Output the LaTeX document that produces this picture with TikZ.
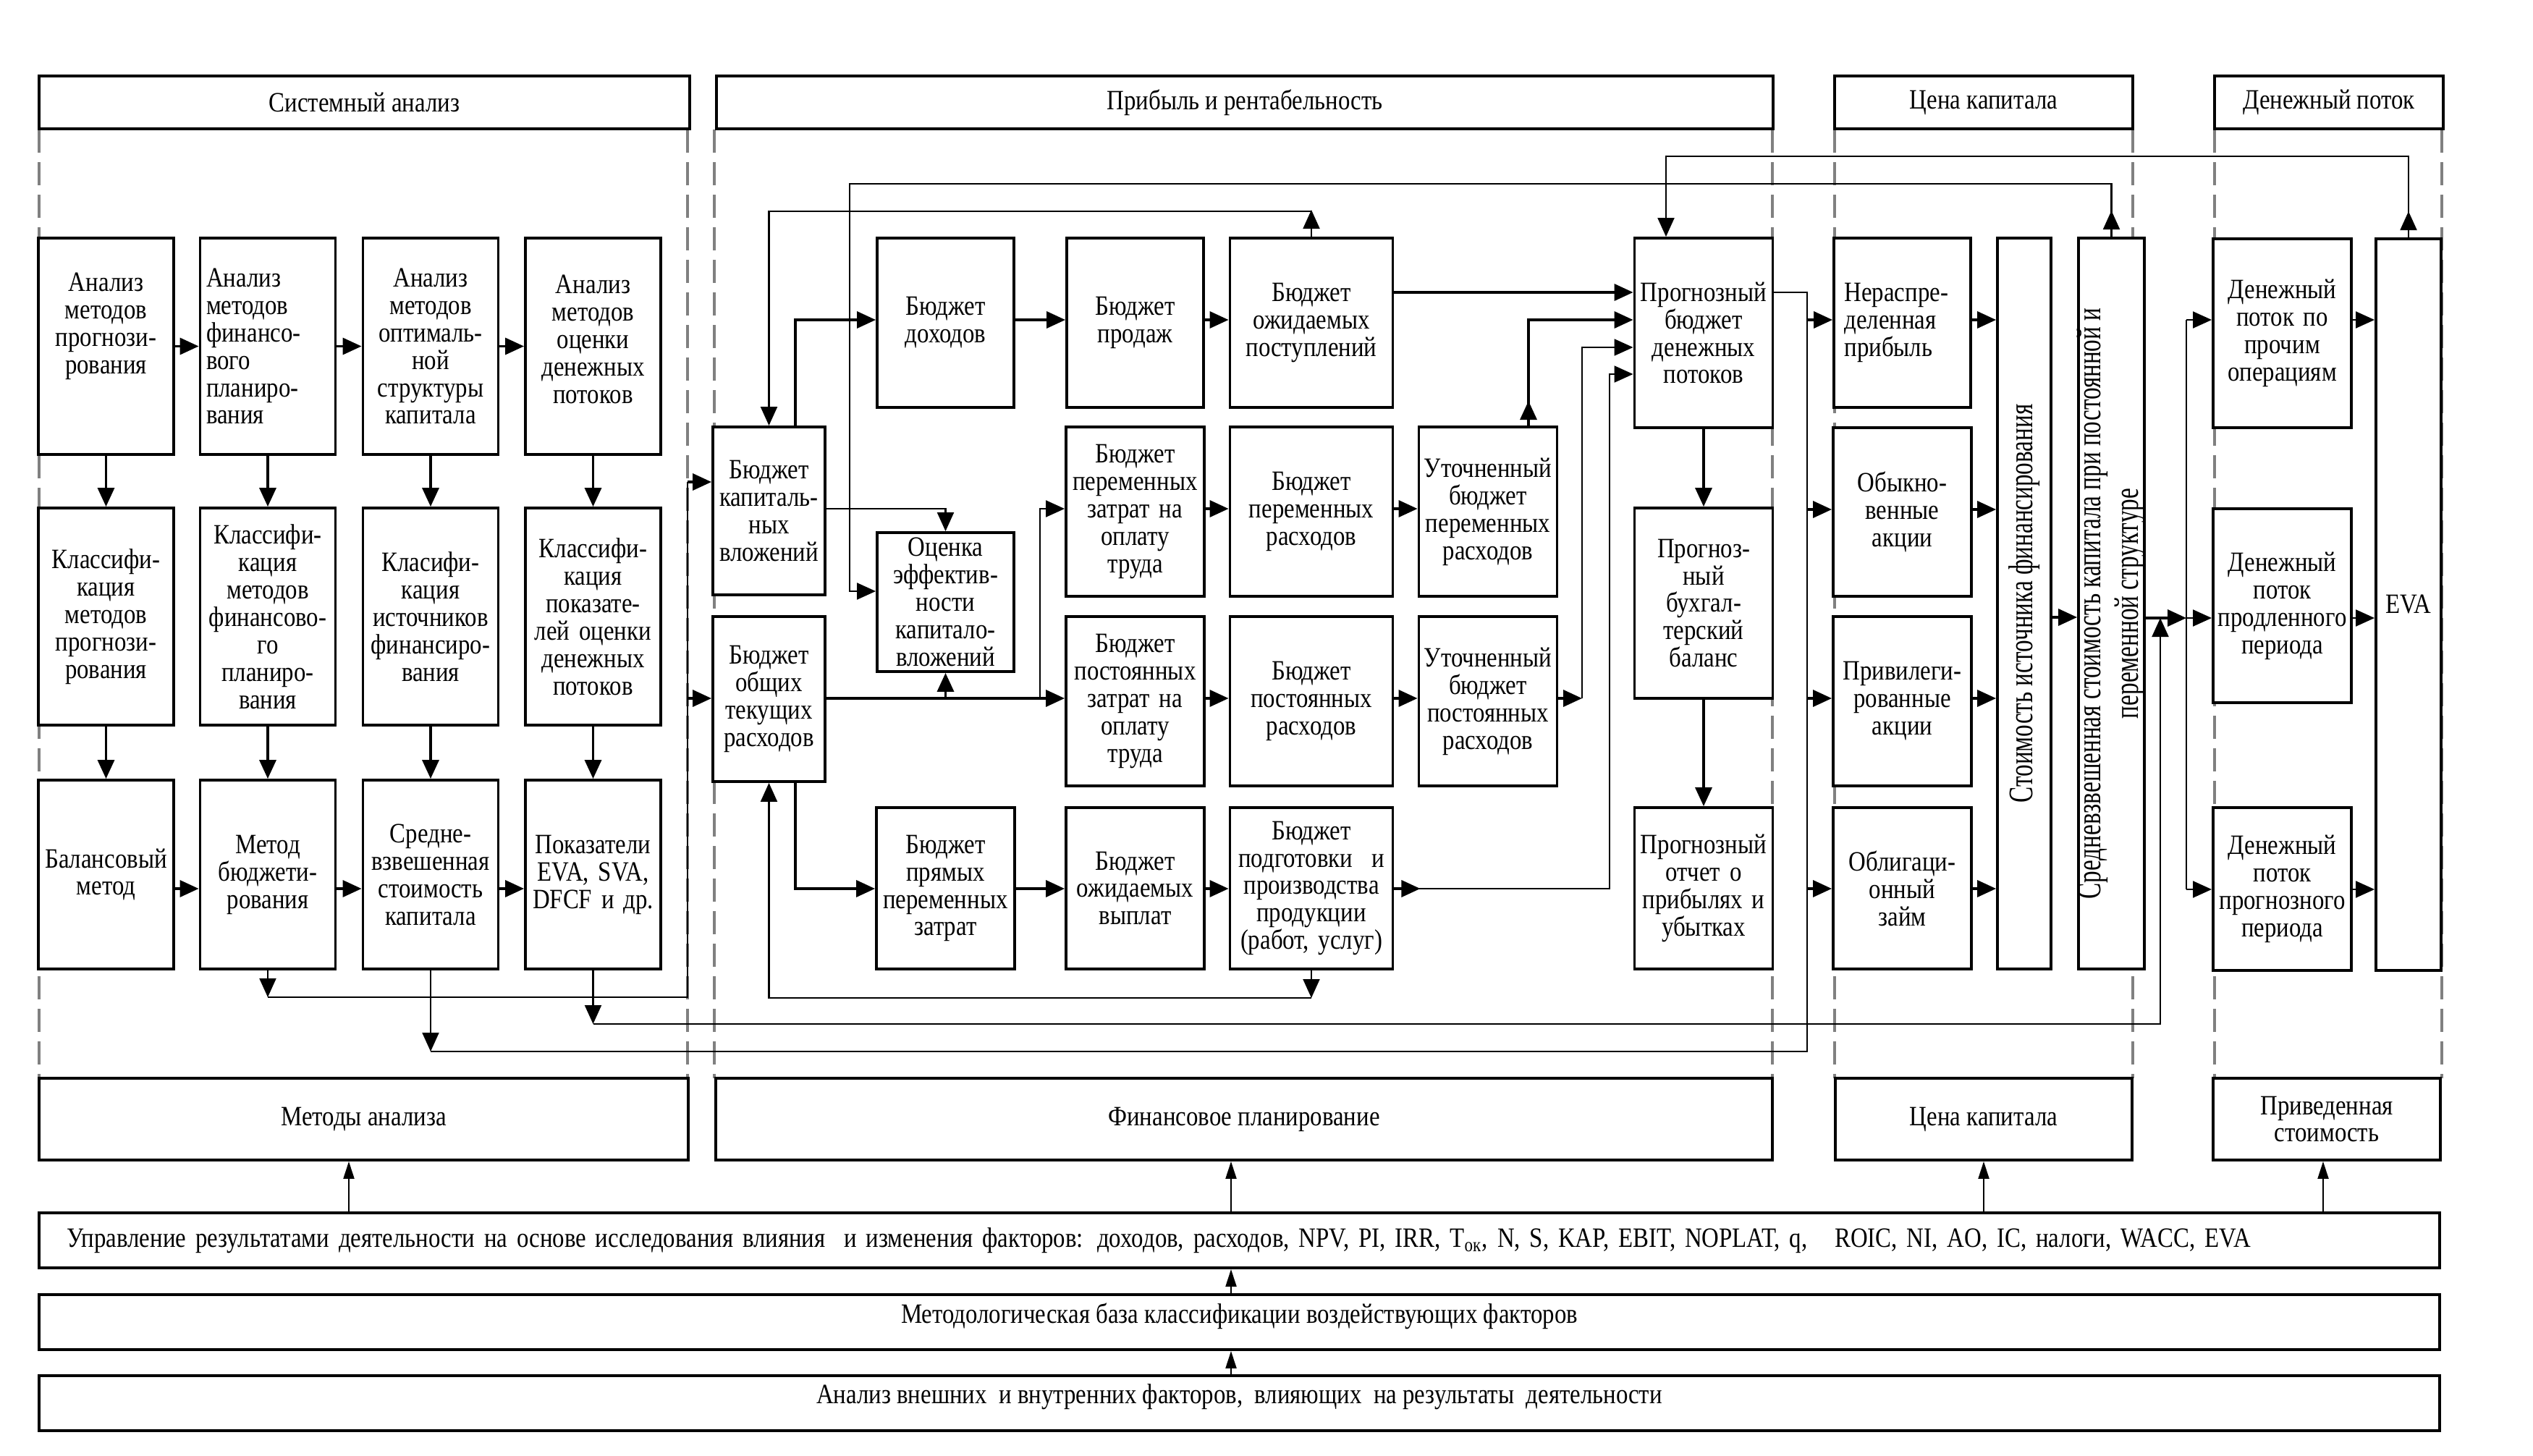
\documentclass[tikz,border=0pt]{standalone}
\usepackage{fontspec}
\setmainfont{Liberation Serif}[FakeStretch=0.85]
\newfontfamily\vertfont{Liberation Serif}[FakeStretch=0.70]
\usetikzlibrary{arrows.meta}

\tikzset{
  blk/.style={draw, line width=1.1pt, fill=white, align=center, inner sep=1pt},
  hdr/.style={blk, minimum height=0.73cm},
  bot/.style={blk, minimum height=1.13cm},
  bar/.style={blk, minimum width=33.17cm, minimum height=0.76cm},
  ln/.style={line width=0.6pt},
  lnb/.style={line width=1pt},
  thinarr/.style={ln, -{Triangle[length=2.4mm,width=1.5mm]}},
  sep/.style={draw=gray, line width=0.9pt, dash pattern=on 3.2mm off 1.3mm},
  vtext/.style={rotate=90, align=center, font={\vertfont\fontsize{13.5}{14.7}\selectfont}},
}

\begin{document}
\begin{tikzpicture}[x=1cm,y=-1cm,>={Triangle[length=2.6mm,width=2.3mm]},font=\fontsize{11}{10.8}\selectfont]
  \useasboundingbox (0,0) rectangle (35,20.12);

  % пунктирные границы блоков
  \draw[sep] (0.54,1.79) -- (0.54,14.90);
  \draw[sep] (9.50,1.79) -- (9.50,14.90);
  \draw[sep] (9.87,1.79) -- (9.87,14.90);
  \draw[sep] (24.49,1.79) -- (24.49,14.90);
  \draw[sep] (25.35,1.79) -- (25.35,14.90);
  \draw[sep] (29.47,1.79) -- (29.47,14.90);
  \draw[sep] (30.60,1.79) -- (30.60,14.90);
  \draw[sep] (33.74,1.79) -- (33.74,14.90);

  % заголовки
  \node[hdr, minimum width=8.99cm] (h1) at (5.035,1.415) {Системный анализ};
  \node[hdr, minimum width=14.6cm] (h2) at (17.2,1.415) {Прибыль и рентабельность};
  \node[hdr, minimum width=4.12cm] (h3) at (27.41,1.415) {Цена капитала};
  \node[hdr, minimum width=3.16cm] (h4) at (32.18,1.415) {Денежный поток};

  % системный анализ
  \node[blk, minimum width=1.87cm, minimum height=2.99cm, text width=1.8cm] (a11) at (1.465,4.785) {Анализ\\методов\\прогнози-\\рования\\[0.25cm]\mbox{}};
  \node[blk, minimum width=1.87cm, minimum height=2.99cm, text width=1.7cm, align=left] (a12) at (3.70,4.785) {Анализ\\методов\\финансо-\\вого\\планиро-\\вания};
  \node[blk, minimum width=1.87cm, minimum height=2.99cm, text width=1.8cm] (a13) at (5.95,4.785) {Анализ\\методов\\оптималь-\\ной\\структуры\\капитала};
  \node[blk, minimum width=1.87cm, minimum height=2.99cm, text width=1.8cm] (a14) at (8.195,4.785) {Анализ\\методов\\оценки\\денежных\\потоков\\[-0.18cm]\mbox{}};
  \node[blk, minimum width=1.87cm, minimum height=3.0cm, text width=1.8cm] (a21) at (1.465,8.52) {Классифи-\\кация\\методов\\прогнози-\\рования};
  \node[blk, minimum width=1.87cm, minimum height=3.0cm, text width=1.8cm] (a22) at (3.70,8.52) {Классифи-\\кация\\методов\\финансово-\\го\\планиро-\\вания};
  \node[blk, minimum width=1.87cm, minimum height=3.0cm, text width=1.8cm] (a23) at (5.95,8.52) {Класифи-\\кация\\источников\\финансиро-\\вания};
  \node[blk, minimum width=1.87cm, minimum height=3.0cm, text width=1.8cm] (a24) at (8.195,8.52) {Классифи-\\кация\\показате-\\лей оценки\\денежных\\потоков};
  \node[blk, minimum width=1.87cm, minimum height=2.61cm, text width=1.8cm] (a31) at (1.465,12.085) {Балансовый\\метод};
  \node[blk, minimum width=1.87cm, minimum height=2.61cm, text width=1.8cm] (a32) at (3.70,12.085) {Метод\\бюджети-\\рования};
  \node[blk, minimum width=1.87cm, minimum height=2.61cm, text width=1.8cm] (a33) at (5.95,12.085) {Средне-\\взвешенная\\стоимость\\капитала};
  \node[blk, minimum width=1.87cm, minimum height=2.61cm, text width=1.8cm] (a34) at (8.195,12.085) {Показатели\\EVA, SVA,\\DFCF и др.};

  % прибыль и рентабельность
  \node[blk, minimum width=1.51cm, minimum height=2.32cm, text width=1.48cm] (kv) at (10.625,7.06) {Бюджет\\капиталь-\\ных\\вложений};
  \node[blk, minimum width=1.51cm, minimum height=2.28cm, text width=1.48cm] (ot) at (10.625,9.66) {Бюджет\\общих\\текущих\\расходов};
  \node[blk, minimum width=1.87cm, minimum height=2.34cm, text width=1.82cm] (doh) at (13.065,4.46) {Бюджет\\доходов};
  \node[blk, minimum width=1.87cm, minimum height=2.34cm, text width=1.82cm] (prod) at (15.685,4.46) {Бюджет\\продаж};
  \node[blk, minimum width=2.24cm, minimum height=2.34cm, text width=2.18cm] (post) at (18.12,4.46) {Бюджет\\ожидаемых\\поступлений};
  \node[blk, minimum width=1.87cm, minimum height=1.92cm, text width=1.82cm] (ocen) at (13.065,8.32) {Оценка\\эффектив-\\ности\\капитало-\\вложений};
  \node[blk, minimum width=1.87cm, minimum height=2.34cm, text width=1.84cm] (pzt) at (15.685,7.07) {Бюджет\\переменных\\затрат на\\оплату\\труда};
  \node[blk, minimum width=2.24cm, minimum height=2.34cm, text width=2.18cm] (prs) at (18.12,7.07) {Бюджет\\переменных\\расходов};
  \node[blk, minimum width=1.88cm, minimum height=2.34cm, text width=1.84cm] (upr) at (20.56,7.07) {Уточненный\\бюджет\\переменных\\расходов};
  \node[blk, minimum width=1.87cm, minimum height=2.34cm, text width=1.84cm] (szt) at (15.685,9.69) {Бюджет\\постоянных\\затрат на\\оплату\\труда};
  \node[blk, minimum width=2.24cm, minimum height=2.34cm, text width=2.18cm] (srs) at (18.12,9.69) {Бюджет\\постоянных\\расходов};
  \node[blk, minimum width=1.88cm, minimum height=2.34cm, text width=1.84cm] (ups) at (20.56,9.69) {Уточненный\\бюджет\\постоянных\\расходов};
  \node[blk, minimum width=1.87cm, minimum height=2.23cm, text width=1.84cm] (prm) at (13.065,12.275) {Бюджет\\прямых\\переменных\\затрат};
  \node[blk, minimum width=1.87cm, minimum height=2.23cm, text width=1.84cm] (vyp) at (15.685,12.275) {Бюджет\\ожидаемых\\выплат};
  \node[blk, minimum width=2.24cm, minimum height=2.23cm, text width=2.18cm] (podg) at (18.12,12.275) {Бюджет\\подготовки\ \ и\\производства\\продукции\\(работ, услуг)};
  \node[blk, minimum width=1.88cm, minimum height=2.62cm, text width=1.84cm] (pbdp) at (23.54,4.60) {Прогнозный\\бюджет\\денежных\\потоков};
  \node[blk, minimum width=1.88cm, minimum height=2.63cm, text width=1.84cm] (pbb) at (23.54,8.335) {Прогноз-\\ный\\бухгал-\\терский\\баланс};
  \node[blk, minimum width=1.88cm, minimum height=2.23cm, text width=1.84cm] (potch) at (23.54,12.275) {Прогнозный\\отчет о\\прибылях и\\убытках};

  % цена капитала
  \node[blk, minimum width=1.89cm, minimum height=2.34cm, text width=1.6cm, align=left] (nr) at (26.285,4.46) {Нераспре-\\деленная\\прибыль};
  \node[blk, minimum width=1.89cm, minimum height=2.33cm, text width=1.84cm] (ob) at (26.285,7.075) {Обыкно-\\венные\\акции};
  \node[blk, minimum width=1.89cm, minimum height=2.34cm, text width=1.84cm] (pr) at (26.285,9.69) {Привилеги-\\рованные\\акции};
  \node[blk, minimum width=1.89cm, minimum height=2.23cm, text width=1.84cm] (obl) at (26.285,12.275) {Облигаци-\\онный\\займ};
  \node[blk, minimum width=0.74cm, minimum height=10.1cm] (sif) at (27.97,8.34) {};
  \node[vtext] (sift) at (sif) {Стоимость источника финансирования};
  \node[blk, minimum width=0.91cm, minimum height=10.1cm] (wacc) at (29.175,8.34) {};
  \node[vtext] (wacct) at (wacc) {Средневзвешенная стоимость капитала при постоянной и\\переменной структуре};

  % денежный поток
  \node[blk, minimum width=1.87cm, minimum height=2.61cm, text width=1.84cm] (dp1) at (31.535,4.605) {Денежный\\поток по\\прочим\\операциям};
  \node[blk, minimum width=1.87cm, minimum height=2.68cm, text width=1.84cm] (dp2) at (31.535,8.37) {Денежный\\поток\\продленного\\периода};
  \node[blk, minimum width=1.87cm, minimum height=2.25cm, text width=1.84cm] (dp3) at (31.535,12.285) {Денежный\\поток\\прогнозного\\периода};
  \node[blk, minimum width=0.90cm, minimum height=10.11cm] (eva) at (33.28,8.355) {\raisebox{-0.17cm}{EVA}};

  % нижние блоки
  \node[bot, minimum width=8.97cm] (b1) at (5.025,15.465) {Методы анализа};
  \node[bot, minimum width=14.6cm] (b2) at (17.19,15.465) {Финансовое планирование};
  \node[bot, minimum width=4.1cm] (b3) at (27.41,15.465) {Цена капитала};
  \node[bot, minimum width=3.14cm, text width=3cm] (b4) at (32.15,15.465) {Приведенная\\стоимость};
  \node[bar, text width=32.4cm, align=left] (u) at (17.125,17.14) {Управление результатами деятельности на основе исследования влияния\ \ и изменения факторов: доходов, расходов, NPV, PI, IRR, T\textsubscript{ок}, N, S, KAP, EBIT, NOPLAT, q,\hspace{0.25cm} ROIC, NI, AO, IC, налоги, WACC, EVA};
  \node[bar, text depth=0.25cm] (m) at (17.125,18.27) {Методологическая база классификации воздействующих факторов};
  \node[bar, text depth=0.25cm] (an) at (17.125,19.39) {Анализ внешних\ \ и внутренних факторов,\ \ влияющих\ \ на результаты\ \ деятельности};

  % связи: системный анализ
  \draw[lnb,->] (a11) -- (a12);
  \draw[lnb,->] (a12) -- (a13);
  \draw[lnb,->] (a13) -- (a14);
  \draw[lnb,->] (a11) -- (a21);
  \draw[lnb,->] (a12) -- (a22);
  \draw[lnb,->] (a13) -- (a23);
  \draw[lnb,->] (a14) -- (a24);
  \draw[lnb,->] (a21) -- (a31);
  \draw[lnb,->] (a22) -- (a32);
  \draw[lnb,->] (a23) -- (a33);
  \draw[lnb,->] (a24) -- (a34);
  \draw[lnb,->] (a31.east |- 0,12.28) -- (a32.west |- 0,12.28);
  \draw[lnb,->] (a32.east |- 0,12.28) -- (a33.west |- 0,12.28);
  \draw[lnb,->] (a33.east |- 0,12.28) -- (a34.west |- 0,12.28);

  % шины под системным анализом
  \coordinate (kA) at (9.50,13.78);
  \draw[ln,->] (a32.south) -- (a32.south |- kA);
  \draw[ln] (a32.south |- kA) -- (kA) -- (9.50,6.66);
  \draw[lnb,->] (9.50,6.66) -- (kv.west |- 0,6.66);
  \draw[lnb,->] (9.50,9.65) -- (ot.west |- 0,9.65);

  \coordinate (kB) at (24.97,14.53);
  \draw[ln,->] (a33.south) -- (a33.south |- kB);
  \draw[ln] (a33.south |- kB) -- (kB) -- (24.97,4.04) -- (pbdp.east |- 0,4.04);
  \draw[lnb,->] (24.97,4.42) -- (nr.west |- 0,4.42);
  \draw[lnb,->] (24.97,7.04) -- (ob.west |- 0,7.04);
  \draw[lnb,->] (24.97,9.65) -- (pr.west |- 0,9.65);
  \draw[lnb,->] (24.97,12.28) -- (obl.west |- 0,12.28);

  \coordinate (kC) at (29.85,14.15);
  \draw[ln,->] (a34.south) -- (a34.south |- kC);
  \draw[ln,->] (a34.south |- kC) -- (kC) -- (29.85,8.54);

  % верхние обратные связи
  \draw[ln,->] (eva.north) -- ++(0,-0.36);
  \draw[ln,->] (eva.north) -- (eva.north |- 0,2.16) -- (23.02,2.16) -- (pbdp.north -| 23.02,0);
  \draw[ln,->] (wacc.north) -- ++(0,-0.36);
  \draw[ln,->] (wacc.north) -- (wacc.north |- 0,2.54) -- (11.74,2.54) -- (11.74,8.17) -- (ocen.west |- 0,8.17);
  \draw[ln,->] (post.north) -- ++(0,-0.37);
  \draw[ln,->] (post.north |- 0,2.92) -- (kv.north |- 0,2.92) -- (kv.north);

  % связи: бюджеты
  \draw[lnb,->] (kv.north -| 10.99,0) -- (10.99,4.42) -- (doh.west |- 0,4.42);
  \draw[lnb,->] (doh.east |- 0,4.42) -- (prod.west |- 0,4.42);
  \draw[lnb,->] (prod.east |- 0,4.42) -- (post.west |- 0,4.42);
  \draw[lnb,->] (post.east |- 0,4.04) -- (pbdp.west |- 0,4.04);
  \draw[ln,->] (kv.east |- 0,7.03) -| (ocen.north);
  \draw[lnb,->] (ot.east |- 0,9.65) -- (szt.west |- 0,9.65);
  \draw[lnb,->] (ocen.south |- 0,9.65) -- (ocen.south);
  \draw[ln,->] (14.37,9.65) -- (14.37,7.03) -- (pzt.west |- 0,7.03);
  \draw[lnb,->] (pzt.east |- 0,7.03) -- (prs.west |- 0,7.03);
  \draw[lnb,->] (prs.east |- 0,7.03) -- (upr.west |- 0,7.03);
  \draw[lnb,->] (szt.east |- 0,9.65) -- (srs.west |- 0,9.65);
  \draw[lnb,->] (srs.east |- 0,9.65) -- (ups.west |- 0,9.65);
  \draw[lnb,->] (ot.south -| 10.99,0) -- (10.99,12.28) -- (prm.west |- 0,12.28);
  \draw[lnb,->] (prm.east |- 0,12.28) -- (vyp.west |- 0,12.28);
  \draw[lnb,->] (vyp.east |- 0,12.28) -- (podg.west |- 0,12.28);
  \coordinate (kD) at (18.11,13.79);
  \draw[ln,->] (podg.south) -- (podg.south |- kD);
  \draw[ln,->] (podg.south |- kD) -- (ot.south |- kD) -- (ot.south);
  \draw[lnb,->] (podg.east |- 0,12.28) -- ++(0.36,0);
  \draw[ln,->] (podg.east |- 0,12.28) -- (22.24,12.28) -- (22.24,5.17) -- (pbdp.west |- 0,5.17);
  \draw[lnb,->] (ups.east |- 0,9.65) -- (21.86,9.65);
  \draw[ln,->] (21.86,9.65) -- (21.86,4.80) -- (pbdp.west |- 0,4.80);
  \draw[lnb,->] (upr.north -| 21.12,0) -- ++(0,-0.34);
  \draw[lnb,->] (upr.north -| 21.12,0) -- (21.12,4.42) -- (pbdp.west |- 0,4.42);
  \draw[lnb,->] (pbdp) -- (pbb);
  \draw[lnb,->] (pbb) -- (potch);

  % связи: цена капитала
  \draw[lnb,->] (nr.east |- 0,4.42) -- (sif.west |- 0,4.42);
  \draw[lnb,->] (ob.east |- 0,7.04) -- (sif.west |- 0,7.04);
  \draw[lnb,->] (pr.east |- 0,9.65) -- (sif.west |- 0,9.65);
  \draw[lnb,->] (obl.east |- 0,12.28) -- (sif.west |- 0,12.28);
  \draw[lnb,->] (sif.east |- 0,8.53) -- (wacc.west |- 0,8.53);

  % связи: денежный поток
  \draw[lnb,->] (wacc.east |- 0,8.54) -- (30.21,8.54);
  \draw[ln] (30.21,4.42) -- (30.21,12.29);
  \draw[ln,->] (30.21,4.42) -- (dp1.west |- 0,4.42);
  \draw[ln,->] (30.21,8.54) -- (dp2.west |- 0,8.54);
  \draw[ln,->] (30.21,12.29) -- (dp3.west |- 0,12.29);
  \draw[ln,->] (dp1.east |- 0,4.42) -- (eva.west |- 0,4.42);
  \draw[ln,->] (dp2.east |- 0,8.54) -- (eva.west |- 0,8.54);
  \draw[ln,->] (dp3.east |- 0,12.29) -- (eva.west |- 0,12.29);

  % нижние связи
  \draw[thinarr] (u.north -| 4.82,0) -- (b1.south -| 4.82,0);
  \draw[thinarr] (u.north -| 17.01,0) -- (b2.south -| 17.01,0);
  \draw[thinarr] (u.north -| 27.41,0) -- (b3.south -| 27.41,0);
  \draw[thinarr] (u.north -| 32.10,0) -- (b4.south -| 32.10,0);
  \draw[thinarr] (m.north -| 17.01,0) -- (u.south -| 17.01,0);
  \draw[thinarr] (an.north -| 17.01,0) -- (m.south -| 17.01,0);
\end{tikzpicture}
\end{document}
